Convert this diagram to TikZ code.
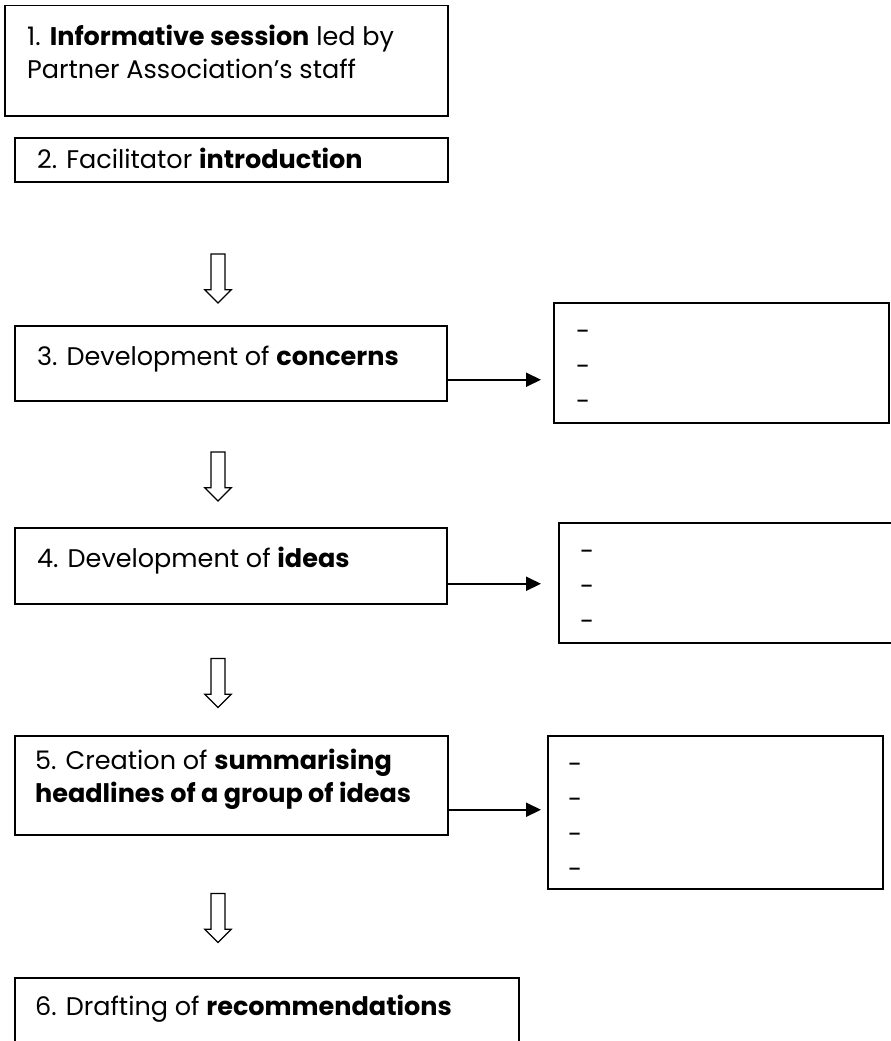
\documentclass[tikz,border=0pt]{standalone}
\usepackage{fontspec}
\setmainfont{Poppins}
\usetikzlibrary{positioning, arrows.meta, shapes.arrows}

\begin{document}
\begin{tikzpicture}[x=1pt, y=-1pt,
    stage/.style={draw, line width=1.5pt, rectangle, inner sep=0pt, anchor=north west},
    stagetxt/.style={anchor=base west, align=left, inner sep=0pt,
                     font=\fontsize{25.5}{33}\selectfont},
    notes/.style={draw, line width=1.5pt, rectangle, inner sep=0pt, anchor=north west},
    notetxt/.style={anchor=base west, align=left, inner sep=0pt,
                    font=\fontsize{25.5}{35}\selectfont},
    arr/.style={-{Triangle[length=15pt, width=14pt]}, line width=2pt},
    down/.style={draw, line width=1.3pt, single arrow, shape border rotate=270,
                 minimum height=49pt, minimum width=25pt, inner sep=6.3pt,
                 single arrow head extend=6.2pt, single arrow tip angle=90}
  ]
  \useasboundingbox (0,0) rectangle (891,1041);

  % stages
  \node[stage, minimum width=443pt, minimum height=110pt] (b1) at (4,5) {};
  \node[stage, minimum width=433pt, minimum height=44pt]  (b2) at (14,137) {};
  \node[stage, minimum width=432pt, minimum height=75pt]  (b3) at (14,325) {};
  \node[stage, minimum width=432pt, minimum height=76pt]  (b4) at (14,527) {};
  \node[stage, minimum width=433pt, minimum height=99pt]  (b5) at (14,735) {};
  \node[stage, minimum width=504pt, minimum height=100pt] (b6) at (14,977) {};

  % multi-line texts sit on their last line
  \node[stagetxt] (t1) at ([shift={(23pt,-73pt)}]b1.north west)
        {1. \textbf{Informative session} led by\\Partner Association’s staff};
  \node[stagetxt] (t2) at ([shift={(23pt,-31pt)}]b2.north west)
        {2. Facilitator \textbf{introduction}};
  \node[stagetxt] (t3) at ([shift={(23pt,-40pt)}]b3.north west)
        {3. Development of \textbf{concerns}};
  \node[stagetxt] (t4) at ([shift={(23pt,-40pt)}]b4.north west)
        {4. Development of \textbf{ideas}};
  \node[stagetxt] (t5) at ([shift={(21pt,-67pt)}]b5.north west)
        {5. Creation of \textbf{summarising}\\\textbf{headlines of a group of ideas}};
  \node[stagetxt] (t6) at ([shift={(21pt,-38pt)}]b6.north west)
        {6. Drafting of \textbf{recommendations}};

  % lists on the right
  \node[notes, minimum width=335pt, minimum height=120pt] (r3) at (553,302) {};
  \node[notes, minimum width=360pt, minimum height=120pt] (r4) at (558,522) {};
  \node[notes, minimum width=335pt, minimum height=153pt] (r5) at (547,735) {};

  \node[notetxt] (n3) at ([shift={(23pt,-108pt)}]r3.north west) {-\\-\\-};
  \node[notetxt] (n4) at ([shift={(22pt,-108pt)}]r4.north west) {-\\-\\-};
  \node[notetxt] (n5) at ([shift={(21pt,-143pt)}]r5.north west) {-\\-\\-\\-};

  % hollow arrows
  \node[down] (d1) at (218,275) {};
  \node[down] (d2) at (218,473) {};
  \node[down] (d3) at (218,679.5) {};
  \node[down] (d4) at (218,914.5) {};

  % arrows to the lists
  \coordinate (a3) at ([yshift=-16.5pt]b3.east);
  \coordinate (a4) at ([yshift=-18pt]b4.east);
  \coordinate (a5) at ([yshift=-24.5pt]b5.east);
  \draw[arr, shorten >=12pt] (a3) -- (a3 -| r3.west);
  \draw[arr, shorten >=17pt] (a4) -- (a4 -| r4.west);
  \draw[arr, shorten >=6pt]  (a5) -- (a5 -| r5.west);
\end{tikzpicture}
\end{document}
